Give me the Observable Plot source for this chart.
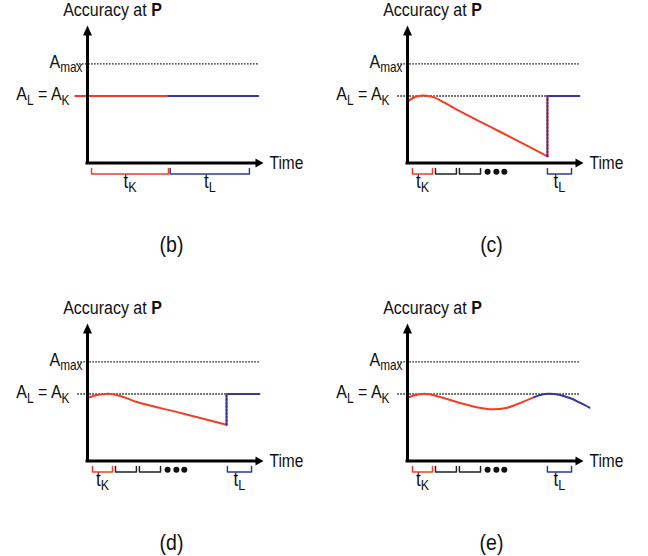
<!DOCTYPE html>
<html><head><meta charset="utf-8">
<script src="https://cdn.jsdelivr.net/npm/d3@7"></script>
<script src="https://cdn.jsdelivr.net/npm/@observablehq/plot@0.6"></script>
<style>
body{margin:0;background:#fff;}
#root{position:relative;width:648px;height:556px;overflow:hidden;}
#root svg{position:absolute;background:transparent;overflow:visible;}
</style></head><body><div id="root"></div>
<script>
// ---- data (time 0..100 along the x axis, accuracy 0..100 along the y axis) ----
const panelIds = ["b", "c", "d", "e"];
const panelLabels = ["(b)", "(c)", "(d)", "(e)"];
const levelMax = 74;      // A_max
const levelLK = 50;       // A_L = A_K
const titleText = "Accuracy at **P**";
const axisText = "Time";
const maxText = "A_{max}";
const lkText = "A_{L} = A_{K}";

// (b)
const bKnowT = [-7, 46];          const bKnowA = [50, 50];
const bLearnT = [46, 97];         const bLearnA = [50, 50];
// (c)
const cKnowT = [0, 3, 8.5, 15, 21, 28, 48, 66.5, 79.5];
const cKnowA = [45.5, 48.5, 50.3, 49, 45, 39.8, 26.4, 13.9, 5];
const cJumpT = [79.5, 79.5];      const cJumpA = [5, 50];
const cLearnT = [79.5, 97.7];     const cLearnA = [50, 50];
// (d)
const dKnowT = [0, 5, 12, 20, 28, 54, 79];
const dKnowA = [47, 49, 50.2, 48, 44, 35.5, 27];
const dJumpT = [79, 79];          const dJumpA = [27, 50];
const dLearnT = [79, 97.7];       const dLearnA = [50, 50];
// (e)
const eKnowT = [0, 4, 9.7, 18, 28, 40, 48, 56, 62.5, 72];
const eKnowA = [47, 49, 50.2, 48, 44, 40, 38.6, 39.5, 42.5, 47.7];
const eLearnT = [72, 76, 80, 86, 93, 98, 103.4];
const eLearnA = [47.7, 49.5, 50.2, 49.5, 46.6, 43.5, 39.8];

// time-interval brackets
const bBracketFrom = [2.3, 47];   const bBracketTo = [46, 92];   const bBracketKind = ["K", "L"];
const sBracketFrom = [2.8, 15.9, 29.5, 79.5];
const sBracketTo = [14.2, 27.8, 41.5, 93.2];
const sBracketKind = ["K", "", "", "L"];
const ellipsisT = [45.5, 50.5, 55];

// ---- styling constants ----
const RED = "#f33d26", BLUE = "#3636a0", FONT = "'Liberation Sans', Arial, sans-serif";
const X_TIP = 100, Y_TIP = 102.6;
const BR_TOP = -4.1, BR_BOT = -8.2, DOT_Y = -6.5;
const TEXT_STRETCH = 1.16;

const pts = (T, A) => T.map((t, i) => ({t, a: A[i]}));

const headUp = {draw(c) { c.moveTo(0, 0); c.lineTo(4.5, 10); c.lineTo(-4.5, 10); c.closePath(); }};
const headRight = {draw(c) { c.moveTo(0, 0); c.lineTo(-8, -4.5); c.lineTo(-8, 4.5); c.closePath(); }};

const series = {
  b: {know: pts(bKnowT, bKnowA), learn: pts(bLearnT, bLearnA), jump: null,
      br: [bBracketFrom, bBracketTo, bBracketKind], dots: false, dotLK: false, dotFrom: -6.2, dotTo: 97},
  c: {know: pts(cKnowT, cKnowA), learn: pts(cLearnT, cLearnA), jump: pts(cJumpT, cJumpA),
      br: [sBracketFrom, sBracketTo, sBracketKind], dots: true, dotLK: true, dotFrom: -5.5, dotTo: 97.7},
  d: {know: pts(dKnowT, dKnowA), learn: pts(dLearnT, dLearnA), jump: pts(dJumpT, dJumpA),
      br: [sBracketFrom, sBracketTo, sBracketKind], dots: true, dotLK: true, dotFrom: -5.5, dotTo: 97.7},
  e: {know: pts(eKnowT, eKnowA), learn: pts(eLearnT, eLearnA), jump: null,
      br: [sBracketFrom, sBracketTo, sBracketKind], dots: true, dotLK: true, dotFrom: -5.5, dotTo: 97.7}
};

function richify(svg) {
  d3.select(svg).selectAll("text").each(function() {
    const s = this.textContent;
    if (/_\{|\*\*/.test(s)) {
      this.textContent = "";
      const parts = s.split(/(_\{[^}]*\}|\*\*[^*]+\*\*)/).filter(p => p);
      let low = false;
      for (const p of parts) {
        const ts = document.createElementNS("http://www.w3.org/2000/svg", "tspan");
        if (p.startsWith("_{")) {
          ts.textContent = p.slice(2, -1);
          ts.setAttribute("font-size", "0.74em");
          if (!low) ts.setAttribute("dy", "3.5");
          low = true;
        } else {
          if (p.startsWith("**")) { ts.textContent = p.slice(2, -2); ts.setAttribute("font-weight", "bold"); }
          else ts.textContent = p;
          if (low) ts.setAttribute("dy", "-3.5");
          low = false;
        }
        this.appendChild(ts);
      }
    }
    // the reference lettering is slightly taller than wide: stretch about the anchor point
    const tr = this.getAttribute("transform") || "";
    this.setAttribute("transform", `${tr} scale(1,${TEXT_STRETCH})`);
  });
}

function panel(id, label, left, top, width, height) {
  const s = series[id];
  const [bf, bt, bk] = s.br;
  const brackets = [];
  bf.forEach((f, i) => {
    const to = bt[i];
    [[f, BR_TOP], [f, BR_BOT], [to, BR_BOT], [to, BR_TOP]].forEach(([t, a]) => brackets.push({id: i, kind: bk[i], t, a}));
  });
  const tLabels = bf.map((f, i) => ({t: (f + bt[i]) / 2, kind: bk[i]})).filter(d => d.kind);
  const marks = [
    Plot.ruleY([levelMax], {x1: s.dotFrom, x2: s.dotTo, stroke: "#111", strokeWidth: 1.3, strokeDasharray: "1.5,1.5"}),
    s.dotLK ? Plot.ruleY([levelLK], {x1: s.dotFrom, x2: s.dotTo, stroke: "#111", strokeWidth: 1.3, strokeDasharray: "1.5,1.5"}) : null,
    Plot.line(s.know, {x: "t", y: "a", stroke: RED, strokeWidth: 2, curve: "catmull-rom"}),
    Plot.line(s.learn, {x: "t", y: "a", stroke: BLUE, strokeWidth: 2, curve: "catmull-rom"}),
    s.jump ? Plot.line(s.jump, {x: "t", y: "a", stroke: RED, strokeWidth: 2}) : null,
    s.jump ? Plot.line(s.jump, {x: "t", y: "a", stroke: BLUE, strokeWidth: 2, strokeDasharray: "1.5,2"}) : null,
    Plot.line(brackets.filter(d => d.kind === "K"), {x: "t", y: "a", z: "id", stroke: RED, strokeWidth: 1.5}),
    Plot.line(brackets.filter(d => d.kind === "L"), {x: "t", y: "a", z: "id", stroke: BLUE, strokeWidth: 1.5}),
    Plot.line(brackets.filter(d => !d.kind), {x: "t", y: "a", z: "id", stroke: "#222", strokeWidth: 1.5}),
    s.dots ? Plot.dot(ellipsisT, {x: d => d, y: () => DOT_Y, r: 3, fill: "#111"}) : null,
    // axes
    Plot.ruleX([0], {y1: 0, y2: Y_TIP - 5, stroke: "#000", strokeWidth: 3, strokeLinecap: "square"}),
    Plot.ruleY([0], {x1: 0, x2: X_TIP - 3, stroke: "#000", strokeWidth: 3, strokeLinecap: "square"}),
    Plot.dot([{t: 0, a: Y_TIP}], {x: "t", y: "a", symbol: headUp, fill: "#000", stroke: "none"}),
    Plot.dot([{t: X_TIP, a: 0}], {x: "t", y: "a", symbol: headRight, fill: "#000", stroke: "none"}),
    // texts
    Plot.text([titleText], {x: () => 0, y: () => Y_TIP, text: d => d, dx: 25, dy: -15, fontSize: 16, textAnchor: "middle", lineAnchor: "middle"}),
    Plot.text([axisText], {x: () => X_TIP, y: () => 0, text: d => d, dx: 6, fontSize: 15.5, textAnchor: "start", lineAnchor: "middle"}),
    Plot.text([maxText], {x: () => 0, y: () => levelMax, text: d => d, dx: -5, dy: -1.5, fontSize: 16, textAnchor: "end", lineAnchor: "middle"}),
    Plot.text([lkText], {x: () => 0, y: () => levelLK, text: d => d, dx: -18, dy: -1.5, fontSize: 16, textAnchor: "end", lineAnchor: "middle"}),
    Plot.text(tLabels, {x: "t", y: () => 0, text: d => "t_{" + d.kind + "}", dy: 24.5, fontSize: 17, textAnchor: "middle", lineAnchor: "bottom"}),
    Plot.text([label], {x: () => 0, y: () => 0, text: d => d, dx: 84, dy: 82, fontSize: 19.5, textAnchor: "middle", lineAnchor: "middle"})
  ].filter(Boolean);
  const svg = Plot.plot({
    width, height,
    marginLeft: 87, marginRight: width - 263,
    marginTop: 28.5, marginBottom: height - 162.5,
    x: {domain: [0, 100], axis: null},
    y: {domain: [0, 100], axis: null},
    style: {fontFamily: FONT, background: "transparent", overflow: "visible", color: "#111"},
    marks
  });
  richify(svg);
  svg.style.left = left + "px";
  svg.style.top = top + "px";
  document.getElementById("root").appendChild(svg);
}

panel(panelIds[0], panelLabels[0], 0, 0, 320, 298);
panel(panelIds[1], panelLabels[1], 320, 0, 328, 298);
panel(panelIds[2], panelLabels[2], 0, 298, 320, 258);
panel(panelIds[3], panelLabels[3], 320, 298, 328, 258);
</script></body></html>
